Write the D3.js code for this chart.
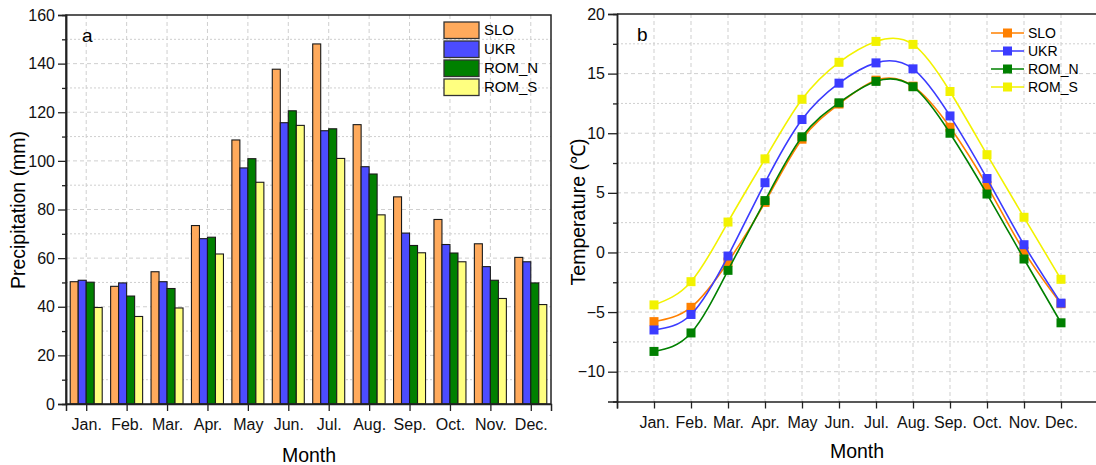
<!DOCTYPE html>
<html>
<head>
<meta charset="utf-8">
<script src="https://cdn.jsdelivr.net/npm/d3@7"></script>
<style>
  body { margin: 0; background: #fff; }
  svg { display: block; font-family: Arial, "Liberation Sans", sans-serif; }
</style>
</head>
<body>
<div id="chart"></div>
<script>
// months on both x axes
const months = ["Jan.", "Feb.", "Mar.", "Apr.", "May", "Jun.", "Jul.", "Aug.", "Sep.", "Oct.", "Nov.", "Dec."];
const regions = ["SLO", "UKR", "ROM_N", "ROM_S"];

// panel a: precipitation (mm)
const precipSLO  = [50.3, 48.4, 54.4, 73.4, 108.6, 137.7, 148.1, 114.9, 85.2, 75.9, 65.9, 60.3];
const precipUKR  = [50.9, 49.8, 50.3, 68.0, 97.1, 115.7, 112.4, 97.6, 70.3, 65.6, 56.5, 58.5];
const precipROMN = [50.1, 44.4, 47.5, 68.6, 100.9, 120.6, 113.2, 94.6, 65.2, 62.1, 50.9, 49.8];
const precipROMS = [39.7, 36.0, 39.5, 61.7, 91.2, 114.6, 101.0, 77.8, 62.2, 58.5, 43.4, 40.9];

// panel b: temperature (degC)
const tempSLO  = [-5.8, -4.6, -0.8, 4.2, 9.5, 12.45, 14.45, 13.95, 10.5, 5.6, 0.1, -4.3];
const tempUKR  = [-6.5, -5.2, -0.3, 5.85, 11.15, 14.2, 15.9, 15.4, 11.45, 6.2, 0.65, -4.25];
const tempROMN = [-8.3, -6.75, -1.5, 4.35, 9.7, 12.55, 14.35, 13.9, 10.0, 4.9, -0.55, -5.9];
const tempROMS = [-4.4, -2.45, 2.55, 7.85, 12.85, 15.95, 17.7, 17.45, 13.5, 8.2, 2.95, -2.25];

const precipTicks = [0, 20, 40, 60, 80, 100, 120, 140, 160];
const tempTicks = [-10, -5, 0, 5, 10, 15, 20];

const barColors  = {SLO: "#FFAA5C", UKR: "#4C4CFF", ROM_N: "#008000", ROM_S: "#FFFF80"};
const lineColors = {SLO: "#FF8000", UKR: "#3B3BFF", ROM_N: "#008000", ROM_S: "#F2F200"};

const precip = {SLO: precipSLO, UKR: precipUKR, ROM_N: precipROMN, ROM_S: precipROMS};
const temp = {SLO: tempSLO, UKR: tempUKR, ROM_N: tempROMN, ROM_S: tempROMS};

const W = 1096, H = 465;
const svg = d3.select("#chart").append("svg").attr("width", W).attr("height", H);

const gridColor = "#cfcfcf";

//------------------ panel a ------------------
const xa = d3.scaleLinear().domain([0.5, 12.5]).range([66, 551]);
const ya = d3.scaleLinear().domain([0, 160]).range([404, 15]);
const inner = d3.scaleBand().domain(regions).range([-16, 16]);

const ga = svg.append("g");

// grid
ga.selectAll(".hgrid").data(d3.range(10, 160, 10)).enter().append("line")
  .attr("x1", 66).attr("x2", 551)
  .attr("y1", d => ya(d)).attr("y2", d => ya(d))
  .style("stroke", gridColor).style("stroke-width", 1)
  .style("stroke-dasharray", d => d % 20 === 0 ? "4,3" : "2,2");
ga.selectAll(".vgrid").data(d3.range(1, 13)).enter().append("line")
  .attr("x1", d => xa(d)).attr("x2", d => xa(d))
  .attr("y1", 15).attr("y2", 404)
  .style("stroke", gridColor).style("stroke-width", 1).style("stroke-dasharray", "4,3");

// bars
regions.forEach(r => {
  ga.selectAll(".bar-" + r).data(precip[r]).enter().append("rect")
    .attr("x", (d, i) => xa(i + 1) + inner(r))
    .attr("y", d => ya(d))
    .attr("width", inner.bandwidth())
    .attr("height", d => ya(0) - ya(d))
    .style("fill", barColors[r])
    .style("stroke", "#1a1a1a").style("stroke-width", 1.1);
});

// axes
ga.append("g").attr("transform", "translate(66,0)")
  .call(d3.axisLeft(ya).tickValues(precipTicks).tickSize(8).tickPadding(3));
ga.append("g").attr("transform", "translate(66,0)")
  .call(d3.axisLeft(ya).tickValues(d3.range(10, 160, 20)).tickSize(4).tickFormat(""));
ga.append("g").attr("transform", "translate(0,404)")
  .call(d3.axisBottom(xa).tickValues(d3.range(1, 13)).tickSize(7).tickPadding(8)
    .tickFormat(d => months[d - 1]));
ga.append("rect").attr("x", 66).attr("y", 15).attr("width", 551 - 66).attr("height", 404 - 15)
  .style("fill", "none").style("stroke", "#222").style("stroke-width", 1.5);

ga.append("text").attr("x", 82).attr("y", 42).text("a").style("font-size", "19px");

ga.append("text").attr("x", 309).attr("y", 462).attr("text-anchor", "middle")
  .style("font-size", "19.5px").text("Month");
ga.append("text").attr("transform", "translate(25,210) rotate(-90)").attr("text-anchor", "middle")
  .style("font-size", "19.5px").text("Precipitation (mm)");

// legend a
const legA = ga.append("g");
regions.forEach((r, i) => {
  legA.append("rect").attr("x", 444).attr("y", 22 + i * 19).attr("width", 35).attr("height", 16.5)
    .style("fill", barColors[r]).style("stroke", "#333").style("stroke-width", 1.3);
  legA.append("text").attr("x", 484).attr("y", 30 + i * 19).attr("dy", "0.35em")
    .style("font-size", "15px").text(r);
});

//------------------ panel b ------------------
const xb = d3.scaleLinear().domain([0, 13]).range([617, 1098]);
const yb = d3.scaleLinear().domain([-12.5, 20]).range([401.5, 14]);

const gb = svg.append("g");

gb.selectAll(".hgrid").data(d3.range(-10, 20, 2.5)).enter().append("line")
  .attr("x1", 617).attr("x2", 1096)
  .attr("y1", d => yb(d)).attr("y2", d => yb(d))
  .style("stroke", gridColor).style("stroke-width", 1)
  .style("stroke-dasharray", d => d % 5 === 0 ? "4,3" : "2,2");
gb.selectAll(".vgrid").data(d3.range(1, 13)).enter().append("line")
  .attr("x1", d => xb(d)).attr("x2", d => xb(d))
  .attr("y1", 14).attr("y2", 401.5)
  .style("stroke", gridColor).style("stroke-width", 1).style("stroke-dasharray", "4,3");

const line = d3.line()
  .x((d, i) => xb(i + 1))
  .y(d => yb(d))
  .curve(d3.curveNatural);

regions.forEach(r => {
  gb.append("path").datum(temp[r]).attr("d", line)
    .style("fill", "none").style("stroke", lineColors[r]).style("stroke-width", 1.6);
  gb.selectAll(".pt-" + r).data(temp[r]).enter().append("rect")
    .attr("x", (d, i) => xb(i + 1) - 4.5).attr("y", d => yb(d) - 4.5)
    .attr("width", 9).attr("height", 9)
    .style("fill", lineColors[r]);
});

gb.append("g").attr("transform", "translate(617,0)")
  .call(d3.axisLeft(yb).tickValues(tempTicks).tickSize(9).tickPadding(3).tickFormat(d3.format("d")));
gb.append("g").attr("transform", "translate(617,0)")
  .call(d3.axisLeft(yb).tickValues(d3.range(-7.5, 20, 5)).tickSize(4).tickFormat(""));
gb.append("g").attr("transform", "translate(0,401.5)")
  .call(d3.axisBottom(xb).tickValues(d3.range(0, 13)).tickSize(7).tickPadding(8)
    .tickFormat(d => d === 0 ? "" : months[d - 1]));
gb.append("line").attr("x1", 617).attr("x2", 1096).attr("y1", 14).attr("y2", 14)
  .style("stroke", "#222").style("stroke-width", 1.5);

gb.append("text").attr("x", 637).attr("y", 41).text("b").style("font-size", "19px");

gb.append("text").attr("x", 857).attr("y", 458).attr("text-anchor", "middle")
  .style("font-size", "19.5px").text("Month");
gb.append("text").attr("transform", "translate(585,212) rotate(-90)").attr("text-anchor", "middle")
  .style("font-size", "19.5px").text("Temperature (℃)");

// legend b
regions.forEach((r, i) => {
  const cy = 33 + i * 18;
  gb.append("line").attr("x1", 991).attr("x2", 1024).attr("y1", cy).attr("y2", cy)
    .style("stroke", lineColors[r]).style("stroke-width", 1.6);
  gb.append("rect").attr("x", 1003).attr("y", cy - 4.5).attr("width", 9).attr("height", 9)
    .style("fill", lineColors[r]);
  gb.append("text").attr("x", 1028).attr("y", cy).attr("dy", "0.35em")
    .style("font-size", "14px").text(r);
});

// axis styling
svg.selectAll(".domain").style("stroke", "#222").style("stroke-width", 1.5);
svg.selectAll(".tick line").style("stroke", "#222").style("stroke-width", 1.3);
svg.selectAll(".tick text").style("font-size", "16px").style("fill", "#111")
  .style("font-family", "Arial, 'Liberation Sans', sans-serif");
</script>
</body>
</html>
